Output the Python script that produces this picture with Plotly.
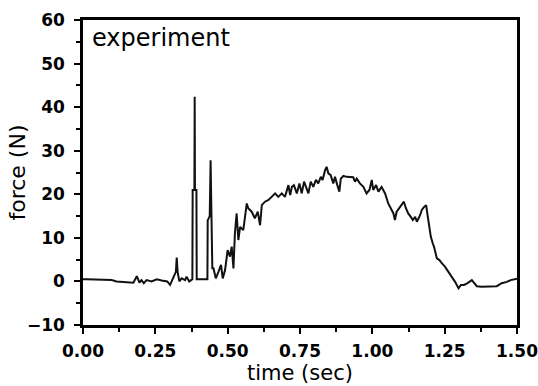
import plotly.graph_objects as go

# time (sec) and force (N)
time_s = [
    0.0, 0.013, 0.099, 0.116, 0.174, 0.186, 0.195, 0.202, 0.21, 0.22, 0.237, 0.255,
    0.272, 0.291, 0.301, 0.312, 0.321, 0.324, 0.327, 0.333, 0.341, 0.353, 0.358,
    0.367, 0.375, 0.378, 0.379, 0.385, 0.386, 0.387, 0.392, 0.393, 0.43, 0.431,
    0.438, 0.441, 0.444, 0.447, 0.451, 0.459, 0.468, 0.477, 0.483, 0.491, 0.50,
    0.508, 0.514, 0.52, 0.525, 0.531, 0.537, 0.543, 0.554, 0.56, 0.566, 0.571,
    0.583, 0.594, 0.604, 0.612, 0.618, 0.629, 0.641, 0.652, 0.664, 0.675, 0.687,
    0.698, 0.71, 0.716, 0.722, 0.729, 0.739, 0.748, 0.756, 0.764, 0.773, 0.779,
    0.787, 0.796, 0.805, 0.813, 0.822, 0.828, 0.837, 0.842, 0.848, 0.856, 0.865,
    0.871, 0.879, 0.886, 0.891, 0.90, 0.911, 0.923, 0.934, 0.94, 0.946, 0.957,
    0.969, 0.98, 0.99, 0.998, 1.003, 1.013, 1.021, 1.032, 1.044, 1.055, 1.067,
    1.073, 1.078, 1.084, 1.096, 1.109, 1.116, 1.124, 1.133, 1.14, 1.148, 1.154,
    1.165, 1.171, 1.179, 1.186, 1.19, 1.197, 1.202, 1.209, 1.213, 1.223, 1.232,
    1.24, 1.251, 1.263, 1.275, 1.286, 1.298, 1.306, 1.317, 1.329, 1.344, 1.352,
    1.361, 1.378, 1.395, 1.413, 1.43, 1.447, 1.465, 1.478, 1.49, 1.5,
]
force_n = [
    0.5, 0.5, 0.3, 0.0, -0.3, 1.2, -0.3, 0.3, -0.4, 0.3, 0.0, 0.5,
    0.2, 0.0, -0.8, 1.1, 2.2, 5.5, 2.2, 0.0, 0.7, 0.3, 1.1,
    0.0, 0.3, 0.5, 21.0, 21.0, 42.4, 21.0, 21.0, 0.5, 0.5, 14.0,
    15.0, 27.8, 15.0, 3.0, 3.0, 0.7, 2.2, 3.8, 0.7, 2.6, 7.2,
    5.7, 8.0, 3.0, 11.0, 15.6, 9.5, 12.5, 11.8, 14.8, 17.9, 16.8,
    16.0, 14.5, 16.0, 12.9, 17.5, 18.3, 18.7, 19.4, 20.2, 19.4, 20.2,
    19.4, 22.1, 19.8, 21.7, 22.1, 20.2, 22.5, 20.2, 22.9, 21.0, 20.2,
    22.9, 21.7, 23.3, 22.5, 24.0, 23.3, 25.6, 26.3, 24.8, 24.4, 22.5,
    24.0, 22.1, 20.6, 23.6, 24.2, 24.0, 24.0, 23.9, 22.9, 23.6, 22.5,
    21.7, 20.2, 21.0, 23.3, 21.0, 22.1, 20.6, 21.7, 20.2, 17.9, 16.4,
    15.6, 14.1, 16.0, 17.1, 18.3, 16.8, 15.6, 14.8, 14.1, 14.8, 13.7,
    15.2, 16.4, 17.1, 17.5, 15.6, 12.5, 10.3, 8.7, 8.0, 5.3, 4.9,
    4.2, 3.4, 2.2, 1.1, -0.1, -1.6, -0.8, -0.8, -0.4, 0.3, -0.3,
    -1.1, -1.2, -1.2, -1.2, -1.1, -0.4, -0.1, 0.3, 0.5, 0.6,
]

x_ticks = [0.0, 0.25, 0.5, 0.75, 1.0, 1.25, 1.5]
x_tick_labels = ["0.00", "0.25", "0.50", "0.75", "1.00", "1.25", "1.50"]
y_ticks = [-10, 0, 10, 20, 30, 40, 50, 60]

fig = go.Figure()
fig.add_trace(go.Scatter(
    x=time_s, y=force_n, mode="lines",
    line=dict(color="#111111", width=2),
    showlegend=False, hoverinfo="skip",
))

tick_font = dict(family="DejaVu Sans", size=17, color="black", weight="bold")
title_font = dict(family="DejaVu Sans", size=21, color="black")

fig.update_layout(
    width=538, height=386,
    margin=dict(l=83, r=21, t=20, b=61),
    paper_bgcolor="white", plot_bgcolor="white",
    xaxis=dict(
        range=[0, 1.5], tickvals=x_ticks, ticktext=x_tick_labels,
        ticks="outside", ticklen=6, tickwidth=2, tickcolor="black",
        minor=dict(dtick=0.125, ticks="outside", ticklen=4, tickwidth=2, tickcolor="black"),
        showline=True, linewidth=2.5, linecolor="black", mirror=True,
        showgrid=False, zeroline=False, tickfont=tick_font,
        ticklabelstandoff=3, automargin=False, ticklabeloverflow="allow",
    ),
    yaxis=dict(
        range=[-10, 60], tickvals=y_ticks,
        ticks="outside", ticklen=6, tickwidth=2, tickcolor="black",
        minor=dict(dtick=5, ticks="outside", ticklen=4, tickwidth=2, tickcolor="black"),
        showline=True, linewidth=2.5, linecolor="black", mirror=True,
        showgrid=False, zeroline=False, tickfont=tick_font,
        ticklabelstandoff=6, automargin=False, ticklabeloverflow="allow",
    ),
    annotations=[
        dict(text="experiment", xref="paper", yref="paper",
             x=0.016, y=0.94, xanchor="left", yanchor="middle",
             showarrow=False, font=dict(family="DejaVu Sans", size=24, color="black")),
        dict(text="time (sec)", xref="paper", yref="paper",
             x=0.5, y=-0.156, xanchor="center", yanchor="middle",
             showarrow=False, font=title_font),
        dict(text="force (N)", xref="paper", yref="paper",
             x=-0.152, y=0.5, xanchor="center", yanchor="middle", textangle=-90,
             showarrow=False, font=dict(family="DejaVu Sans", size=22, color="black")),
    ],
)

fig.write_html("out.html", config={"displayModeBar": False},
               post_script="document.body.style.margin='0';")
